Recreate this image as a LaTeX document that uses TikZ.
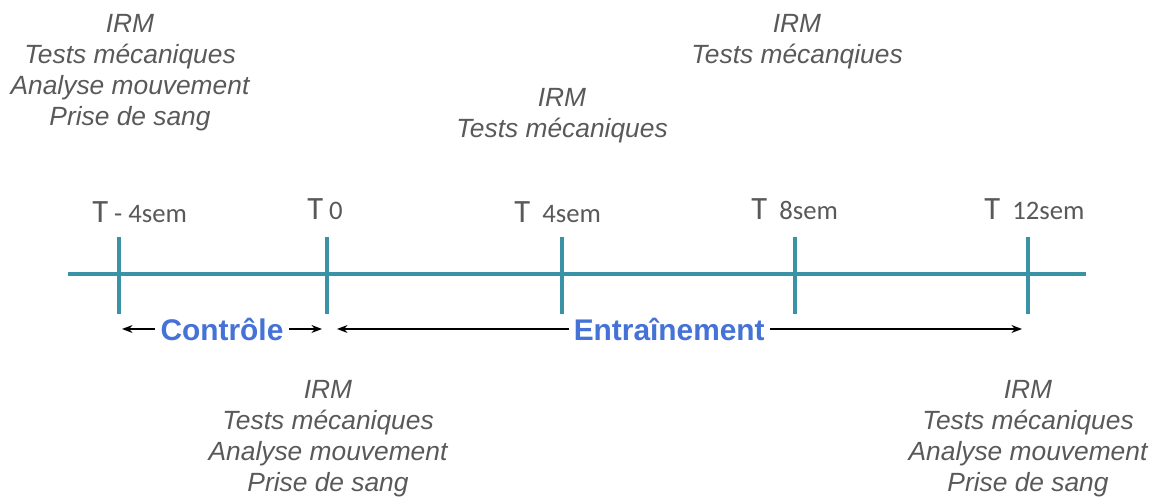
\documentclass[tikz,border=0pt]{standalone}
\usepackage{fontspec}
\setmainfont{Liberation Sans}
\newfontfamily\calibfont{Carlito}
\usepackage{tikz}
\usetikzlibrary{arrows.meta, positioning, calc}
\definecolor{axisteal}{RGB}{58,146,166}
\definecolor{phaseblue}{RGB}{68,114,214}
\definecolor{notegray}{RGB}{89,89,89}

\begin{document}
\begin{tikzpicture}[
  x=0.02cm, y=-0.02cm,
  axis/.style={draw=axisteal, line width=2.2pt},
  tick/.style={draw=axisteal, line width=2.2pt},
  tlabel/.style={anchor=base west, inner sep=0pt, text=notegray,
                 font=\calibfont\fontsize{15.2}{18}\selectfont},
  notes/.style={anchor=north, inner sep=0pt, align=center, text=notegray,
                font=\itshape\fontsize{15}{17.6}\selectfont},
  phase/.style={fill=white, inner sep=3pt, text=phaseblue,
                font=\bfseries\fontsize{17}{20}\selectfont},
  arr/.style={{Stealth[length=6pt,width=4.5pt]}-{Stealth[length=6pt,width=4.5pt]}, line width=0.8pt},
]
  \useasboundingbox (0,0) rectangle (1158,502);

  % Time axis
  \draw[axis] (68,274) coordinate (start) -- (1086,274) coordinate (end);

  % Ticks and their labels
  \foreach \name/\x in {tm4/119, t0/327, t4/562, t8/795, t12/1028}{
    \coordinate (\name top) at (\x,237);
    \coordinate (\name bot) at (\x,314);
    \draw[tick] (\name top) -- (\name bot);
  }
  \node[tlabel] (ltm4) at (92,223) {{\fontsize{18.5}{20}\selectfont T} - 4sem};
  \node[tlabel] (lt0)  at (307,220) {{\fontsize{18.5}{20}\selectfont T} 0};
  \node[tlabel] (lt4)  at (514,223) {{\fontsize{18.5}{20}\selectfont T}\ \ 4sem};
  \node[tlabel] (lt8)  at (751,220) {{\fontsize{18.5}{20}\selectfont T}\ \ 8sem};
  \node[tlabel] (lt12) at (984,220) {{\fontsize{18.5}{20}\selectfont T}\ \ 12sem};

  % Measurements
  \node[notes] (mesm4) at (130,14) {IRM\\Tests mécaniques\\Analyse mouvement\\Prise de sang};
  \node[notes] (mes4)  at (562,88) {IRM\\Tests mécaniques};
  \node[notes] (mes8)  at (797,14) {IRM\\Tests mécanqiues};
  \node[notes] (mes0)  at (328,380) {IRM\\Tests mécaniques\\Analyse mouvement\\Prise de sang};
  \node[notes] (mes12) at (1028,380) {IRM\\Tests mécaniques\\Analyse mouvement\\Prise de sang};

  % Phases
  \coordinate (ctrlL) at (122,329);
  \coordinate (ctrlR) at (322,329);
  \coordinate (trainL) at (337,329);
  \coordinate (trainR) at (1022,329);
  \draw[arr] (ctrlL) -- node[phase, pos=0.5] (ctrl) {Contrôle} (ctrlR);
  \draw[arr] (trainL) -- node[phase, pos=0.485] (train) {Entraînement} (trainR);

\end{tikzpicture}
\end{document}
